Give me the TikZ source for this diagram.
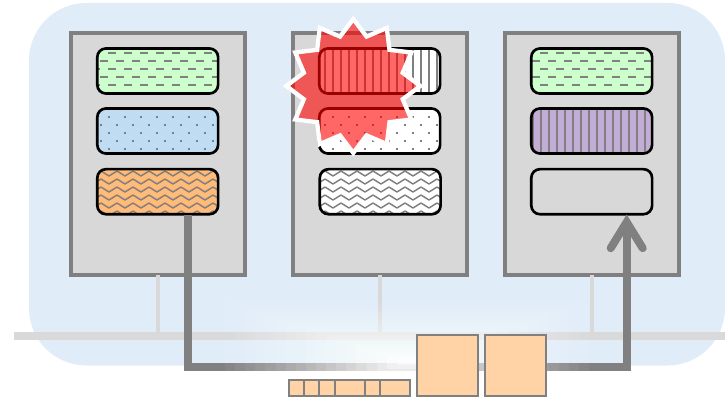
\documentclass[tikz,border=0pt]{standalone}
\usetikzlibrary{shapes.geometric,arrows.meta,calc}
\definecolor{panel}{HTML}{E0EDF9}
\definecolor{busc}{HTML}{D9D9D9}
\definecolor{linec}{HTML}{808080}
\definecolor{hostc}{HTML}{D8D8D8}
\definecolor{peach}{HTML}{FFD3A5}
\definecolor{cgreen}{HTML}{CCFFCC}
\definecolor{cblue}{HTML}{BFDCF2}
\definecolor{corange}{HTML}{FFBB77}
\definecolor{cpurple}{HTML}{C3ACD6}
\tikzset{
  x=0.75pt, y=-0.75pt,
  pat/.style={draw=linec, line width=1.5pt},
  host/.style={draw=linec, fill=hostc, line width=3pt, minimum width=130.5pt, minimum height=181.5pt, inner sep=0pt, outer sep=0pt},
  slotbox/.style={rounded corners=6.5pt, minimum width=90.6pt, minimum height=33.8pt, inner sep=0pt, outer sep=0pt},
  slotline/.style={draw=black, line width=2pt, rounded corners=6.5pt},
  unit/.style={draw=linec, fill=peach, line width=1.5pt, inner sep=0pt, outer sep=0pt},
  stub/.style={draw=busc, line width=3pt},
}
\newcommand\tiledash{\foreach \i in {-5,...,5}\foreach \j in {-2,...,2}{
  \pgfmathsetmacro\xa{16*(\kx+\i)}\pgfmathsetmacro\ya{16*(\ky+\j)}
  \draw[pat] (\xa+12,\ya+5) -- +(8,0);
  \draw[pat] (\xa+4,\ya+13) -- +(8,0);}}
\newcommand\tiledot{\foreach \i in {-5,...,5}\foreach \j in {-2,...,2}{
  \pgfmathsetmacro\xa{16*(\kx+\i)}\pgfmathsetmacro\ya{16*(\ky+\j)}
  \fill[linec] (\xa+11.8,\ya+3.8) rectangle +(2.4,2.4);
  \fill[linec] (\xa+3.8,\ya+11.8) rectangle +(2.4,2.4);}}
\newcommand\tilestripe{\foreach \i in {-10,...,10}{
  \pgfmathsetmacro\xa{8*(2*\kx+\i)+5}
  \draw[pat] (\xa,\ky*16-40) -- (\xa,\ky*16+40);}}
\newcommand\tilewave{\foreach \i in {-5,...,5}\foreach \j in {-4,...,4}{
  \pgfmathsetmacro\xa{16*(\kx+\i)+5}\pgfmathsetmacro\ya{8*(2*\ky+\j)+5.5}
  \draw[draw=linec, line width=1.1pt, line join=round] (\xa,\ya-2.5) -- (\xa+8,\ya+2.5) -- (\xa+16,\ya-2.5);}}
\newcommand\slotnode[5]{%
  \node[slotbox,fill=#4] (#1) at (#2,#3) {};
  \begin{scope}
    \clip[rounded corners=6.5pt] (#1.south west) rectangle (#1.north east);
    \pgfmathtruncatemacro\kx{floor(#2/16)}
    \pgfmathtruncatemacro\ky{floor(#3/16)}
    #5
  \end{scope}
  \draw[slotline] (#1.south west) rectangle (#1.north east);}
\begin{document}
\begin{tikzpicture}
\useasboundingbox (0,0) rectangle (725,399);
% panel
\fill[panel, rounded corners=43pt] (29,3) rectangle (725,365.5);
% hosts
\node[host] (h1) at (158,154) {};
\node[host] (h2) at (380,154) {};
\node[host] (h3) at (592,154) {};
% bus
\coordinate (busL) at (14,335.8);
\coordinate (busR) at (725,335.8);
\draw[draw=busc, line width=6pt] (busL) -- (busR);
\draw[stub] (h1.south) -- (h1.south |- busL);
\draw[stub] (h2.south) -- (h2.south |- busL);
\draw[stub] (h3.south) -- (h3.south |- busL);
% slots
\slotnode{a1}{157.7}{71}{cgreen}{\tiledash}
\slotnode{a2}{157.7}{131}{cblue}{\tiledot}
\slotnode{a3}{157.7}{191.7}{corange}{\tilewave}
\slotnode{b1}{379.7}{71}{white}{\tilestripe}
\slotnode{b2}{379.7}{131}{white}{\tiledot}
\slotnode{b3}{380.2}{191.7}{white}{\tilewave}
\slotnode{c1}{591.7}{71}{cgreen}{\tiledash}
\slotnode{c2}{591.7}{131}{cpurple}{\tilestripe}
\slotnode{c3}{591.7}{191.7}{hostc}{}
% arrow
\coordinate (from) at (188,215);
\coordinate (to) at (626.7,214.5);
\draw[draw=linec, line width=6pt, -{Straight Barb[length=19.5pt,width=24pt,line cap=round,line join=miter]}]
  (from) -- (from |- 0,367) -- (to |- 0,367) -- (to);
% glow
\foreach \n in {1,...,18}{
  \pgfmathsetmacro\op{0.0528/(1-(\n-1)*0.0528)}
  \pgfmathsetmacro\hw{182*(1-(\n-1)/18)}
  \pgfmathsetmacro\hh{60*(1-(\n-1)/18)}
  \fill[white, fill opacity=\op] (407-\hw,362-\hh) rectangle (407+\hw,362+\hh);
}
% units
\node[unit, minimum width=45.4pt, minimum height=45.7pt] (s1) at (447.5,365.8) {};
\node[unit, minimum width=45.4pt, minimum height=45.7pt] (s2) at (515.5,365.8) {};
\foreach \nm/\l/\r in {u1/289/304,u2/304/319,u3/319/334.5,u4/334.5/364.5,u5/364.5/380,u6/380/410.3}{
  \node[unit, anchor=north west, minimum width={(\r-\l)*0.75pt}, minimum height=11.6pt] (\nm) at (\l,380.3) {};
}
% burst
\node[star, star points=12, star point ratio=1.31, minimum size=100.5pt, inner sep=0pt, draw=white, line width=3.2pt, fill=red, fill opacity=0.6, draw opacity=1, miter limit=12] (burst) at (353.3,86) {};
\end{tikzpicture}
\end{document}
